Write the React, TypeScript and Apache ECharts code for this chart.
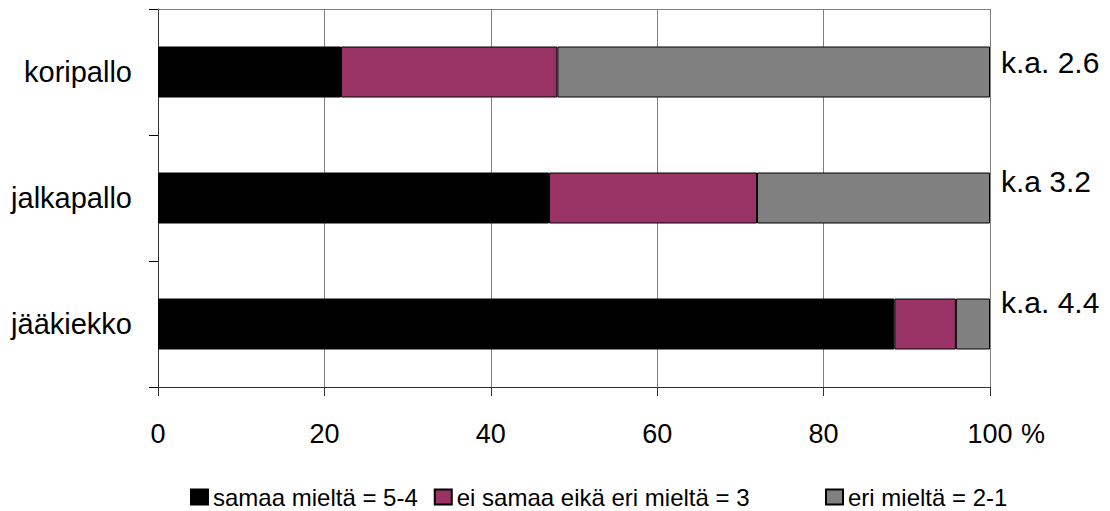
import React, { useEffect, useRef } from 'react';
import * as echarts from 'echarts';

// ---- data ----
const categories = ['koripallo', 'jalkapallo', 'jääkiekko'];
const seriesNames = ['samaa mieltä = 5-4', 'ei samaa eikä eri mieltä = 3', 'eri mieltä = 2-1'];
const agree = [22, 47, 88.5];
const neutral = [26, 25, 7.4];
const disagree = [52, 28, 4.1];
const averageLabels = ['k.a. 2.6', 'k.a 3.2', 'k.a. 4.4'];
const xMin = 0;
const xMax = 100;
const xInterval = 20;

// ---- layout / style ----
const FONT = "'Liberation Sans', Arial, sans-serif";
const COLORS = ['#000000', '#993366', '#808080'];
const LABEL_DY = [-10, -17, -22];

export default function App() {
  const ref = useRef<HTMLDivElement>(null);

  useEffect(() => {
    if (!ref.current) return;
    const chart = echarts.init(ref.current, undefined, { renderer: 'svg' });
    const values = [agree, neutral, disagree];

    const series = values.map((vals, si) => ({
      name: seriesNames[si],
      type: 'bar',
      stack: 'total',
      xAxisIndex: 0,
      barWidth: 51,
      itemStyle: { color: COLORS[si], borderColor: '#000', borderWidth: 1 },
      data:
        si === values.length - 1
          ? vals.map((v, i) => ({ value: v, label: { offset: [0, LABEL_DY[i]] } }))
          : vals,
      label:
        si === values.length - 1
          ? {
              show: true,
              position: 'right',
              distance: 11,
              fontSize: 30,
              fontFamily: FONT,
              color: '#000',
              formatter: (p: any) => averageLabels[p.dataIndex],
            }
          : { show: false },
    }));

    const legendBase = {
      orient: 'horizontal',
      top: 480,
      itemWidth: 17,
      itemHeight: 15,
      itemGap: 16,
      icon: 'rect',
      selectedMode: false,
      textStyle: { fontSize: 24, fontFamily: FONT, color: '#000' },
      itemTextGap: 9,
    };

    chart.setOption({
      animation: false,
      backgroundColor: '#fff',
      textStyle: { fontFamily: FONT },
      grid: { left: 158, right: 120, top: 9, bottom: 124, containLabel: false },
      legend: [
        { ...legendBase, left: 185, data: [seriesNames[0], seriesNames[1]] },
        { ...legendBase, left: 820, data: [seriesNames[2]] },
      ],
      xAxis: [
        {
          type: 'value',
          min: xMin,
          max: xMax,
          interval: xInterval,
          position: 'bottom',
          axisLine: { show: true, lineStyle: { color: '#333', width: 1 } },
          axisTick: { show: true, length: 9, lineStyle: { color: '#333' } },
          axisLabel: { fontSize: 27, fontFamily: FONT, color: '#000', margin: 33 },
          splitLine: { show: true, lineStyle: { color: '#808080', width: 1 } },
          name: '%',
          nameLocation: 'end',
          nameGap: 31,
          nameTextStyle: {
            fontSize: 27,
            fontFamily: FONT,
            color: '#000',
            align: 'left',
            verticalAlign: 'top',
            padding: [33, 0, 0, 0],
          },
        },
        {
          type: 'value',
          min: xMin,
          max: xMax,
          interval: xInterval,
          position: 'top',
          axisLine: { show: true, lineStyle: { color: '#808080', width: 1 } },
          axisTick: { show: false },
          axisLabel: { show: false },
          splitLine: { show: false },
        },
      ],
      yAxis: {
        type: 'category',
        inverse: true,
        data: categories,
        axisLine: { show: true, lineStyle: { color: '#333', width: 1 } },
        axisTick: { show: true, length: 9, lineStyle: { color: '#000' } },
        axisLabel: { fontSize: 29, fontFamily: FONT, color: '#000', margin: 26 },
        splitLine: { show: false },
      },
      series,
    });

    return () => chart.dispose();
  }, []);

  return (
    <div
      ref={ref}
      style={{ position: 'absolute', left: 0, top: 0, width: 1110, height: 511 }}
    />
  );
}
